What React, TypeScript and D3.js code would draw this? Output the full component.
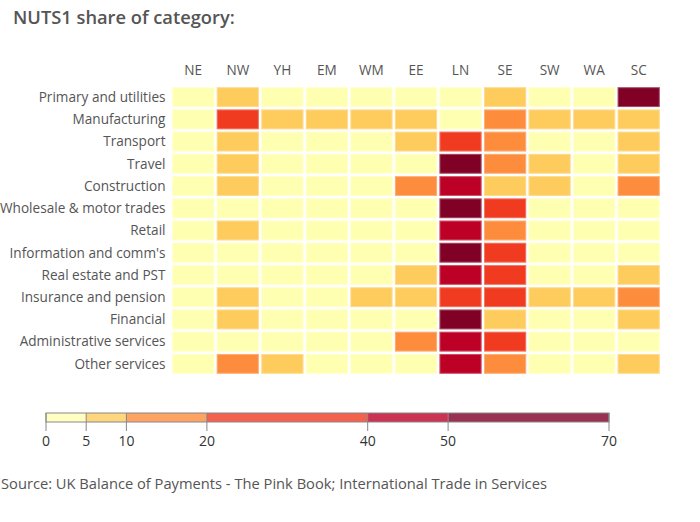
import React from "react";
import * as d3 from "d3";

const regions = ["NE", "NW", "YH", "EM", "WM", "EE", "LN", "SE", "SW", "WA", "SC"];
const categories = [
  "Primary and utilities",
  "Manufacturing",
  "Transport",
  "Travel",
  "Construction",
  "Wholesale & motor trades",
  "Retail",
  "Information and comm's",
  "Real estate and PST",
  "Insurance and pension",
  "Financial",
  "Administrative services",
  "Other services",
];
// share (%) of each category by region, in the order of `regions`
const shares: number[][] = [
  [2, 8, 3, 3, 2, 4, 4, 7, 2, 3, 62],
  [4, 22, 7, 8, 5, 9, 4, 15, 8, 8, 9],
  [2, 7, 3, 3, 3, 8, 38, 19, 3, 2, 7],
  [2, 7, 3, 3, 3, 4, 52, 12, 6, 2, 6],
  [2, 8, 4, 4, 3, 12, 41, 9, 6, 2, 11],
  [2, 4, 3, 3, 3, 4, 56, 21, 2, 1, 2],
  [2, 8, 4, 4, 4, 4, 48, 14, 3, 2, 4],
  [1, 4, 2, 2, 3, 4, 58, 22, 2, 1, 2],
  [2, 4, 3, 3, 3, 7, 46, 22, 3, 1, 6],
  [2, 7, 3, 4, 6, 8, 24, 21, 7, 6, 14],
  [1, 6, 3, 2, 2, 3, 65, 8, 2, 1, 7],
  [2, 4, 3, 3, 3, 12, 44, 22, 3, 1, 3],
  [2, 12, 6, 4, 3, 4, 42, 16, 3, 2, 6],
];
const binEdges = [0, 5, 10, 20, 40, 50, 70];
const binColors = ["#ffffb2", "#fecc5c", "#fd8d3c", "#f03b20", "#bd0026", "#800026"];

const title = "NUTS1 share of category:";
const source = "Source: UK Balance of Payments - The Pink Book; International Trade in Services";

export default function App() {
  const W = 700, H = 522;
  const font = "'Open Sans', 'Noto Sans', sans-serif";
  const x = d3.scaleBand<string>().domain(regions).range([171, 661]).padding(0);
  const y = d3.scaleBand<string>().domain(categories).range([86, 375]).padding(0);
  const color = d3.scaleThreshold<number, string>().domain(binEdges.slice(1, -1)).range(binColors);
  // legend scale: piecewise
  const legendPos = [46, 86.2, 126.4, 206.9, 367.7, 448.1, 609];
  const lx = d3.scaleLinear().domain(binEdges).range(legendPos);
  const gap = 1.2;
  const lyTop = 413, lyH = 9;

  return (
    <svg width={W} height={H} style={{ position: "absolute", left: 0, top: 0 }} fontFamily={font}>
      <rect width={W} height={H} fill="#fff" />
      <text x={13} y={24} fontSize={18.3} fill="#555" fontWeight={600}>{title}</text>
      {regions.map((r) => (
        <text key={r} x={x(r)! + x.bandwidth() / 2} y={75} fontSize={13.6} fill="#555" textAnchor="middle">{r}</text>
      ))}
      {categories.map((c) => (
        <text key={c} x={165.5} y={y(c)! + y.bandwidth() / 2 + 4.8} fontSize={13.6} fill="#555" textAnchor="end">{c}</text>
      ))}
      {categories.map((c, i) =>
        regions.map((r, j) => {
          const v = shares[i][j];
          const fill = color(v);
          const x0 = x(r)! + gap, y0 = y(c)! + gap;
          const w = x.bandwidth() - 2 * gap, h = y.bandwidth() - 2 * gap;
          return (
            <g key={c + r}>
              <rect x={x0} y={y0} width={w} height={h} fill={fill} />
              <rect x={x0 + 0.5} y={y0 + 0.5} width={w - 1} height={h - 1} fill="none" stroke="#fff" strokeOpacity={0.3} strokeWidth={1} />
            </g>
          );
        })
      )}
      {/* legend */}
      {binColors.map((col, i) => (
        <rect key={col} x={lx(binEdges[i])} y={lyTop} width={lx(binEdges[i + 1]) - lx(binEdges[i])} height={lyH} fill={col} fillOpacity={0.8} />
      ))}
      <rect x={lx(0)} y={lyTop} width={lx(70) - lx(0)} height={lyH} fill="none" stroke="#888" strokeWidth={1} />
      {binEdges.map((e) => (
        <g key={e}>
          <line x1={lx(e)} x2={lx(e)} y1={lyTop} y2={lyTop + 18} stroke="#888" strokeWidth={1} />
          <text x={lx(e)} y={446} fontSize={14} fill="#333" textAnchor="middle">{e}</text>
        </g>
      ))}
      <text x={1} y={489} fontSize={14.7} fill="#555">{source}</text>
    </svg>
  );
}
